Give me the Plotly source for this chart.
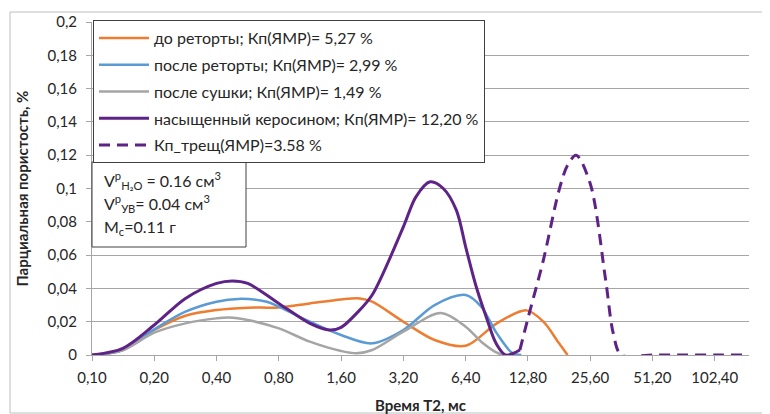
import math
import plotly.graph_objects as go

# ---- data (T2 in ms, partial porosity in %) ----
t2_before = [0.1, 0.141, 0.2, 0.283, 0.4, 0.566, 0.8, 1.13, 1.6, 1.97, 2.26, 3.2, 4.53, 6.4, 9.05, 12.6, 15.2, 18.1, 19.9]
v_before = [0, 0.003, 0.015, 0.0236, 0.027, 0.0284, 0.0286, 0.031, 0.0334, 0.034, 0.032, 0.020, 0.009, 0.0055, 0.019, 0.0268, 0.020, 0.007, 0]

t2_after = [0.1, 0.141, 0.2, 0.283, 0.4, 0.51, 0.7, 0.8, 1.13, 1.6, 2.26, 3.2, 4.53, 6.4, 7.61, 9.05, 10.8, 11.9]
v_after = [0, 0.003, 0.0154, 0.026, 0.032, 0.0337, 0.032, 0.029, 0.020, 0.012, 0.007, 0.015, 0.030, 0.036, 0.029, 0.013, 0.001, 0]

t2_dry = [0.1, 0.141, 0.2, 0.283, 0.4, 0.46, 0.566, 0.8, 1.13, 1.6, 1.9, 2.26, 3.2, 4.85, 6.4, 7.61, 9.05, 9.7]
v_dry = [0, 0.003, 0.0134, 0.019, 0.022, 0.0225, 0.021, 0.016, 0.008, 0.0024, 0.001, 0.003, 0.014, 0.0252, 0.017, 0.008, 0.0014, 0]

t2_kero = [0.1, 0.141, 0.2, 0.283, 0.4, 0.476, 0.566, 0.8, 1.13, 1.41, 1.6, 1.9, 2.26, 3.2, 3.68, 4.31, 4.99, 5.77, 6.4, 7.2, 8.04, 8.98, 10.0, 11.7]
v_kero = [0, 0.004, 0.018, 0.034, 0.043, 0.0445, 0.043, 0.031, 0.019, 0.015, 0.0166, 0.025, 0.036, 0.077, 0.095, 0.104, 0.100, 0.087, 0.065, 0.041, 0.023, 0.007, 0, 0.003]

t2_crack = [11.7, 12.8, 15.2, 18.1, 19.9, 21.9, 25.6, 30.4, 33.1, 36.2, 51.2, 72.4, 102.4, 142.0]
v_crack = [0.003, 0.022, 0.057, 0.099, 0.114, 0.120, 0.103, 0.045, 0.013, 0, 0, 0, 0, 0]

tick_vals = [0.1, 0.2, 0.4, 0.8, 1.6, 3.2, 6.4, 12.8, 25.6, 51.2, 102.4]
tick_text = ["0,10", "0,20", "0,40", "0,80", "1,60", "3,20", "6,40", "12,80", "25,60", "51,20", "102,40"]
y_vals = [0, 0.02, 0.04, 0.06, 0.08, 0.1, 0.12, 0.14, 0.16, 0.18, 0.2]
y_text = ["0", "0,02", "0,04", "0,06", "0,08", "0,1", "0,12", "0,14", "0,16", "0,18", "0,2"]

names = [
    "до реторты; Кп(ЯМР)= 5,27 %",
    "после реторты; Кп(ЯМР)= 2,99 %",
    "после сушки; Кп(ЯМР)= 1,49 %",
    "насыщенный керосином; Кп(ЯМР)= 12,20 %",
    "Кп_трещ(ЯМР)=3.58 %",
]
colors = ["#ED7D31", "#5B9BD5", "#A5A5A5", "#5E2387", "#5E2387"]

FONT = "Lato"
TXT = "#262626"
fig = go.Figure()
series = [(t2_before, v_before), (t2_after, v_after), (t2_dry, v_dry), (t2_kero, v_kero), (t2_crack, v_crack)]
for i, (x, y) in enumerate(series):
    fig.add_trace(go.Scatter(
        x=x, y=y, mode="lines", name=names[i], legendgroup=str(i),
        line=dict(color=colors[i], width=3 if i >= 3 else 2.5, shape="spline", smoothing=0.9,
                  dash="11px,7px" if i == 4 else "solid"),
        hoverinfo="skip",
    ))

# page body has an 8px margin, so the figure is 8px smaller and offsets are shifted
PW, PH = 657, 333
fig.update_layout(
    width=762, height=406,
    margin=dict(l=84, r=21, t=14, b=59, autoexpand=False),
    paper_bgcolor="white", plot_bgcolor="white",
    font=dict(family=FONT, size=15, color=TXT),
    showlegend=True,
    legend=dict(x=1 / PW, y=1 + 2 / PH, xanchor="left", yanchor="top",
                bgcolor="white", bordercolor="#404040", borderwidth=1,
                font=dict(family=FONT, size=16, color=TXT),
                tracegroupgap=3, itemwidth=50),
    xaxis=dict(type="log", range=[-1, -1 + 10.55 * math.log10(2)], automargin=False,
               tickvals=tick_vals, ticktext=tick_text, showgrid=False,
               showline=True, linecolor="#A6A6A6", linewidth=1,
               ticks="outside", ticklen=5, tickcolor="#A6A6A6", ticklabelstandoff=4,
               tickfont=dict(family=FONT, size=15, color=TXT),
               title=dict(text="<b>Время Т2, мс</b>", font=dict(family=FONT, size=15, color=TXT)),
               zeroline=False),
    yaxis=dict(range=[0, 0.2], tickvals=y_vals, ticktext=y_text, automargin=False,
               showgrid=True, gridcolor="#A6A6A6", gridwidth=1,
               showline=True, linecolor="#A6A6A6", linewidth=1,
               ticks="outside", ticklen=5, tickcolor="#A6A6A6", ticklabelstandoff=6,
               tickfont=dict(family=FONT, size=15, color=TXT),
               title=dict(text="<b>Парциальная пористость, %</b>", font=dict(family=FONT, size=15, color=TXT)),
               zeroline=False),
)

# outer chart border
fig.add_shape(type="rect", xref="paper", yref="paper",
              x0=-82 / PW, x1=1 + 20 / PW, y0=-58 / PH, y1=1 + 10 / PH,
              line=dict(color="#BFBFBF", width=1), layer="below")

# info text box
fig.add_shape(type="rect", xref="paper", yref="paper",
              x0=0, x1=154 / PW, y0=(355 - 247) / PH, y1=(355 - 162) / PH,
              line=dict(color="#404040", width=1), fillcolor="white", layer="above")
info_lines = [
    "V<sup>p</sup><sub>H₂O</sub> = 0.16 см<sup>3</sup>",
    "V<sup>p</sup><sub>УВ</sub>= 0.04 см<sup>3</sup>",
    "M<sub>c</sub>=0.11 г",
]
info_y = [180, 203, 227]
for txt, yy in zip(info_lines, info_y):
    fig.add_annotation(text=txt, xref="paper", yref="paper", x=10 / PW, y=(355 - yy) / PH,
                       xanchor="left", yanchor="middle", showarrow=False,
                       font=dict(family=FONT, size=16, color=TXT))

fig.write_html("out.html")
